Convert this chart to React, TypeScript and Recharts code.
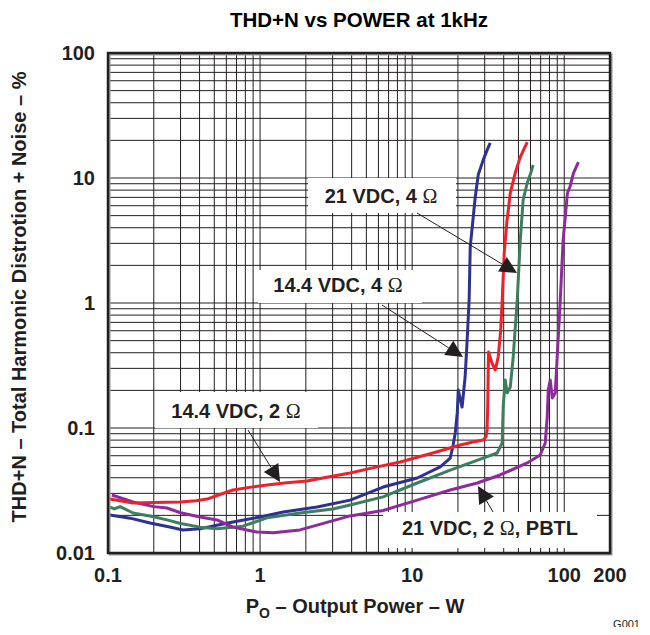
import { CartesianGrid, ComposedChart, Line, XAxis, YAxis } from "recharts";

// grid positions (log decades) and the labelled ones
const xGrid = [
  0.1, 0.2, 0.3, 0.4, 0.5, 0.6, 0.7, 0.8, 0.9,
  1, 2, 3, 4, 5, 6, 7, 8, 9,
  10, 20, 30, 40, 50, 60, 70, 80, 90,
  100, 200
];
const xLabels = [0.1, 1, 10, 100, 200];
const yGrid = [
  0.01, 0.02, 0.03, 0.04, 0.05, 0.06, 0.07, 0.08, 0.09,
  0.1, 0.2, 0.3, 0.4, 0.5, 0.6, 0.7, 0.8, 0.9,
  1, 2, 3, 4, 5, 6, 7, 8, 9,
  10, 20, 30, 40, 50, 60, 70, 80, 90,
  100
];
const yLabels = [0.01, 0.1, 1, 10, 100];

// [output power W, THD+N %]
const thd144v2ohm = [
  [0.103, 0.027], [0.12, 0.0262], [0.146, 0.0251], [0.2, 0.0254], [0.298, 0.0256], [0.38, 0.0262],
  [0.448, 0.027], [0.55, 0.0295], [0.664, 0.0319], [0.85, 0.0335], [1.11, 0.035], [1.5, 0.0365],
  [2.04, 0.0377], [2.8, 0.0405], [3.91, 0.0437], [5.5, 0.048], [8.34, 0.0535], [13.7, 0.0631],
  [20.7, 0.0731], [26, 0.078], [29.3, 0.0802], [30.6, 0.085], [31.1, 0.0964], [31.4, 0.15],
  [31.6, 0.256], [31.8, 0.406], [33.5, 0.33], [35.2, 0.291], [36.8, 0.37], [38.2, 0.6],
  [39.1, 1.057], [40.3, 2.51], [42, 4.5], [44.2, 7.59], [47.6, 10.96], [51.4, 14.7], [57.1, 19.4]
];
const thd144v4ohm = [
  [0.103, 0.0201], [0.14, 0.019], [0.189, 0.0174], [0.25, 0.0162], [0.311, 0.0153], [0.403, 0.0156],
  [0.5, 0.0165], [0.664, 0.0177], [1.0, 0.0194], [1.42, 0.0213], [2.37, 0.0233], [3.91, 0.0265],
  [6.44, 0.0337], [10.8, 0.0398], [15.3, 0.0488], [17.8, 0.0575], [18.6, 0.0731], [19.2, 0.0912],
  [19.8, 0.132], [20.1, 0.201], [21.3, 0.147], [22.3, 0.256], [23.0, 0.506], [23.7, 1.06],
  [24.1, 2.81], [26.0, 7.05], [27.2, 10.6], [29.3, 13.9], [31.1, 16.7], [32.6, 19.1]
];
const thd21v4ohm = [
  [0.103, 0.0233], [0.11, 0.0225], [0.12, 0.0235], [0.146, 0.0209], [0.2, 0.0195], [0.244, 0.0184],
  [0.3, 0.0172], [0.403, 0.0161], [0.521, 0.0156], [0.773, 0.0164], [1.11, 0.0191], [1.83, 0.0209],
  [3.02, 0.0225], [3.91, 0.0242], [6.44, 0.0281], [10.8, 0.0363], [17.8, 0.0461], [29.3, 0.0575],
  [36.2, 0.0631], [39.1, 0.0759], [39.7, 0.147], [40.9, 0.242], [42.2, 0.191], [44.2, 0.213],
  [46.2, 0.37], [49.1, 1.06], [51.4, 3.19], [53.7, 6.67], [57.1, 9.12], [59.7, 10.6], [62.5, 12.7]
];
const thd21v2ohmPbtl = [
  [0.106, 0.0291], [0.146, 0.0256], [0.2, 0.0235], [0.244, 0.0229], [0.3, 0.021], [0.403, 0.0194],
  [0.521, 0.0184], [0.664, 0.0161], [0.955, 0.0147], [1.22, 0.0145], [1.83, 0.0153], [2.37, 0.0167],
  [3.91, 0.0198], [6.44, 0.0219], [10.8, 0.0265], [17.8, 0.0319], [26.8, 0.0363], [37.9, 0.0421],
  [57.1, 0.0525], [69.5, 0.0608], [75, 0.0759], [77.3, 0.122], [78.5, 0.201], [80.9, 0.242],
  [83.4, 0.174], [87.3, 0.191], [89.9, 0.37], [94.2, 1.06], [98.4, 3.19], [105, 7.59],
  [109, 8.47], [115, 10.96], [124, 13.4]
];

const series = [
  { name: "14.4 VDC, 4 Ω", rows: thd144v4ohm, color: "#2e3192" },
  { name: "21 VDC, 4 Ω", rows: thd21v4ohm, color: "#3d7e5e" },
  { name: "21 VDC, 2 Ω, PBTL", rows: thd21v2ohmPbtl, color: "#8e2a99" },
  { name: "14.4 VDC, 2 Ω", rows: thd144v2ohm, color: "#f0202a" }
];

const FONT = "'Liberation Sans', Arial, Helvetica, sans-serif";
const OMEGA_FONT = "'Liberation Serif', 'DejaVu Serif', serif";

function XTick({ x, y, payload }: any) {
  if (!xLabels.includes(payload.value)) return <g />;
  return (
    <text x={x} y={y + 29} textAnchor="middle" fontFamily={FONT} fontWeight="bold" fontSize={20} fill="#231f20">
      {String(payload.value)}
    </text>
  );
}

function YTick({ x, y, payload }: any) {
  if (!yLabels.includes(payload.value)) return <g />;
  return (
    <text x={x - 13} y={y + 7} textAnchor="end" fontFamily={FONT} fontWeight="bold" fontSize={20} fill="#231f20">
      {String(payload.value)}
    </text>
  );
}

function Arrow({ from, tip }: { from: [number, number]; tip: [number, number] }) {
  const dx = tip[0] - from[0];
  const dy = tip[1] - from[1];
  const len = Math.hypot(dx, dy);
  const ux = dx / len;
  const uy = dy / len;
  const bx = tip[0] - ux * 17;
  const by = tip[1] - uy * 17;
  const px = -uy * 8.5;
  const py = ux * 8.5;
  return (
    <g>
      <line x1={from[0]} y1={from[1]} x2={bx} y2={by} stroke="#231f20" strokeWidth={1} />
      <polygon points={`${tip[0]},${tip[1]} ${bx + px},${by + py} ${bx - px},${by - py}`} fill="#231f20" />
    </g>
  );
}

function Callout({ box, cx, cy, before, after = "" }: { box: [number, number, number, number]; cx: number; cy: number; before: string; after?: string }) {
  return (
    <g>
      <rect x={box[0]} y={box[1]} width={box[2] - box[0]} height={box[3] - box[1]} fill="#ffffff" />
      <text x={cx} y={cy} textAnchor="middle" fontFamily={FONT} fontWeight="bold" fontSize={20} fill="#231f20">
        {before}
        <tspan fontFamily={OMEGA_FONT} fontWeight="normal">Ω</tspan>
        {after}
      </text>
    </g>
  );
}

export default function App() {
  return (
    <div style={{ position: "relative", width: 634, height: 627, marginBottom: -8, fontFamily: FONT }}>
      <ComposedChart width={634} height={619} margin={{ top: 45, right: 32, bottom: 34, left: 40 }}>
        <CartesianGrid stroke="#231f20" strokeWidth={1} />
        <XAxis
          dataKey="p"
          type="number"
          scale="log"
          domain={[0.1, 200]}
          allowDataOverflow
          ticks={xGrid}
          interval={0}
          tick={XTick}
          tickLine={false}
          axisLine={false}
          tickSize={0}
          tickMargin={0}
          height={40}
        />
        <YAxis
          type="number"
          scale="log"
          domain={[0.01, 100]}
          allowDataOverflow
          ticks={yGrid}
          interval={0}
          tick={YTick}
          tickLine={false}
          axisLine={false}
          tickSize={0}
          tickMargin={0}
          width={60}
        />
        {series.map((s) => (
          <Line
            key={s.name}
            data={s.rows.map(([p, thd]) => ({ p, thd }))}
            dataKey="thd"
            type="linear"
            stroke={s.color}
            strokeWidth={3}
            strokeLinejoin="round"
            dot={false}
            activeDot={false}
            isAnimationActive={false}
          />
        ))}
      </ComposedChart>
      <svg width={634} height={627} style={{ position: "absolute", left: 0, top: 0, pointerEvents: "none" }}>
        <text x={351} y={19} textAnchor="middle" fontFamily={FONT} fontWeight="bold" fontSize={20.5} fill="#000">
          THD+N vs POWER at 1kHz
        </text>
        <text
          transform="translate(18 289) rotate(-90)"
          textAnchor="middle"
          fontFamily={FONT}
          fontWeight="bold"
          fontSize={20}
          fill="#231f20"
        >
          THD+N – Total Harmonic Distrotion + Noise – %
        </text>
        <text x={347} y={605} textAnchor="middle" fontFamily={FONT} fontWeight="bold" fontSize={20} fill="#231f20">
          P<tspan fontSize={14} dy={5}>O</tspan>
          <tspan dy={-5}> – Output Power – W</tspan>
        </text>
        <text x={632} y={620} textAnchor="end" fontFamily={FONT} fontSize={11} fill="#231f20">
          G001
        </text>

        <Callout box={[300, 170, 448, 205]} cx={373} cy={195} before="21 VDC, 4 " />
        <Callout box={[250, 262, 414, 295]} cx={330} cy={284} before="14.4 VDC, 4 " />
        <Callout box={[147, 384, 310, 420]} cx={228} cy={410} before="14.4 VDC, 2 " />
        <Callout box={[375, 504, 589, 540]} cx={482} cy={527} before="21 VDC, 2 " after=", PBTL" />

        <Arrow from={[409, 205]} tip={[509, 265]} />
        <Arrow from={[374, 297]} tip={[455, 349]} />
        <Arrow from={[240, 422]} tip={[272, 474]} />
        <Arrow from={[485, 504]} tip={[470, 478]} />

        <rect x={101.5} y={46.5} width={502} height={500} fill="none" stroke="#9a9a9a" strokeWidth={2} />
        <rect x={100} y={45} width={502} height={500} fill="none" stroke="#231f20" strokeWidth={2.5} />
      </svg>
    </div>
  );
}
